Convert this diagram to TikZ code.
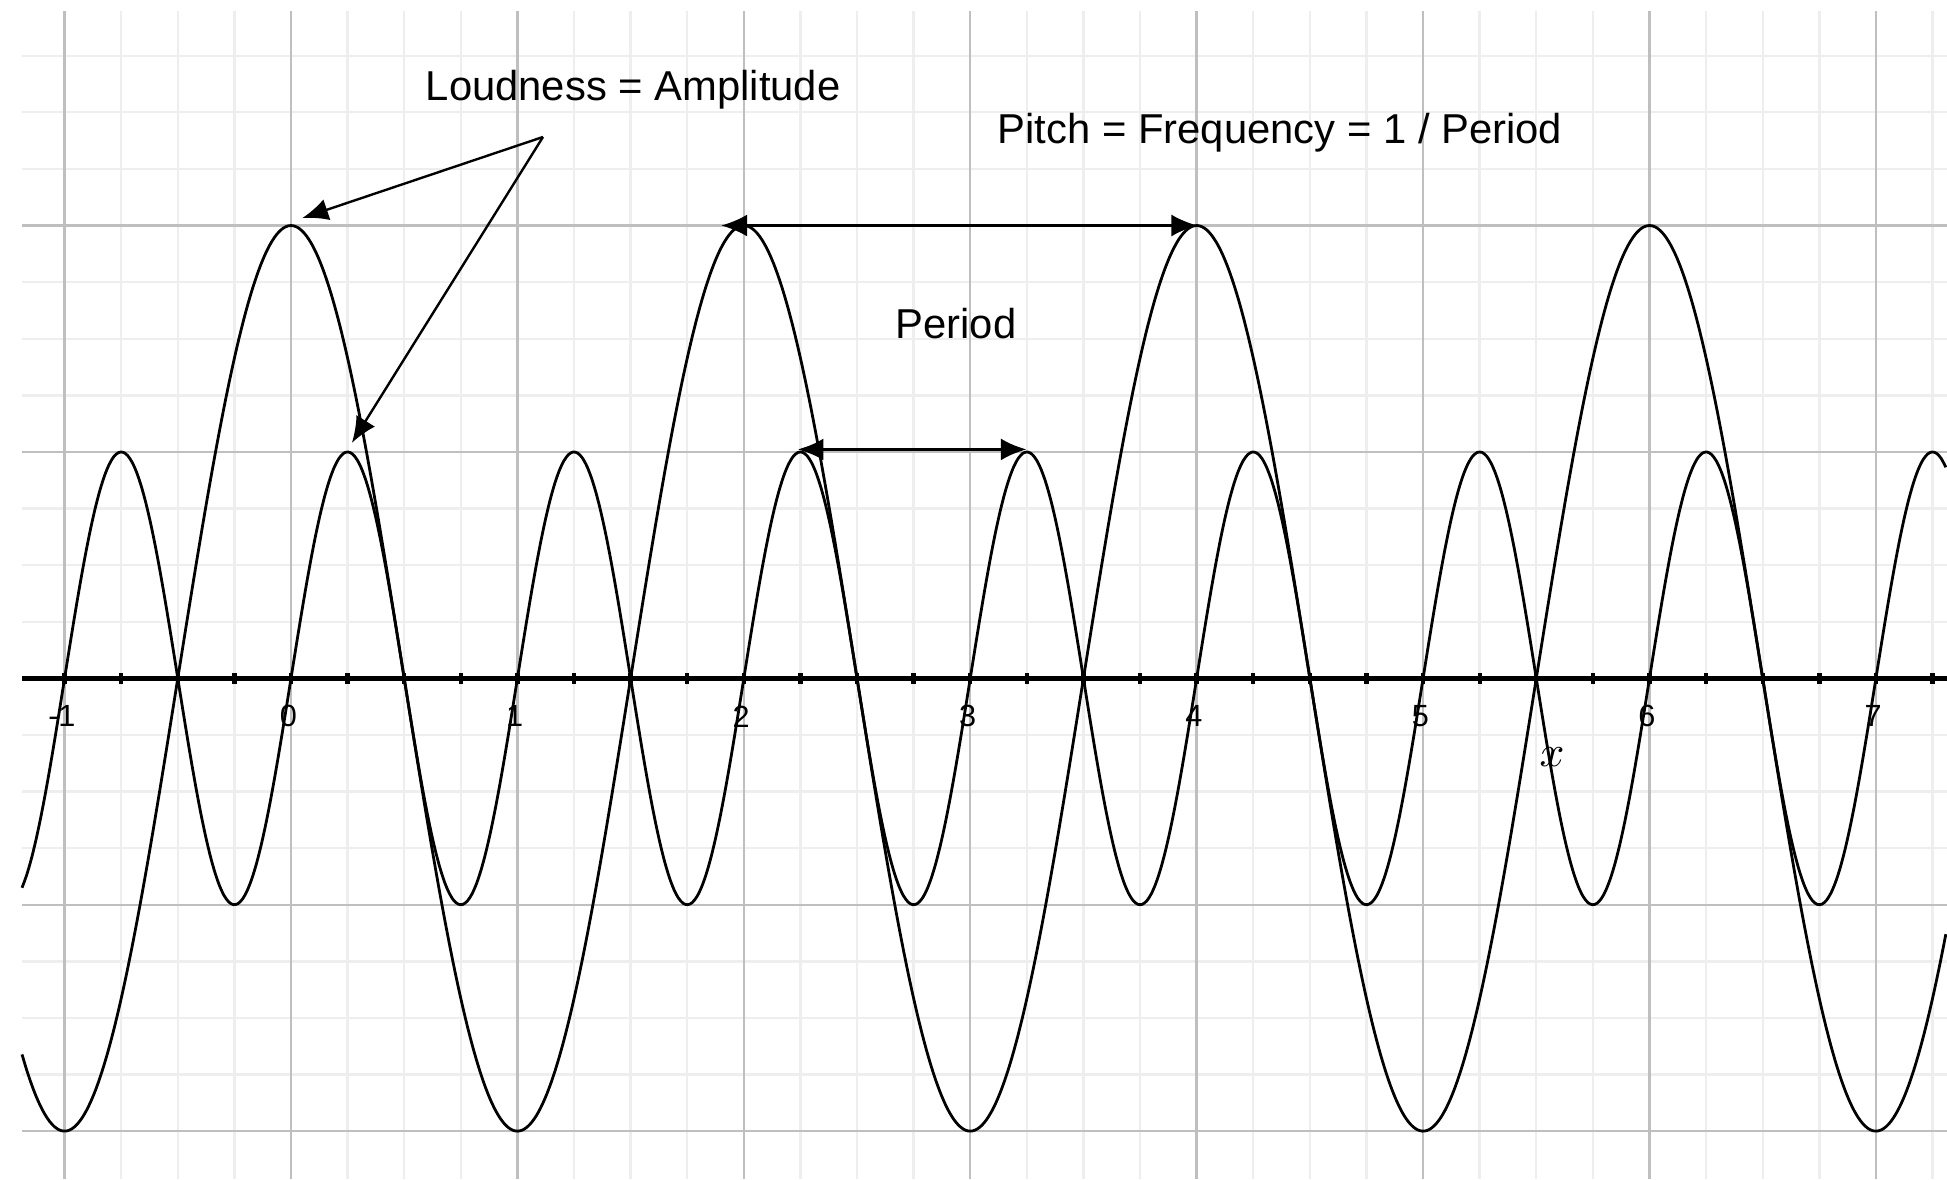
\documentclass[tikz,border=0pt]{standalone}
\usepackage{fontspec}
\setmainfont{Liberation Sans}
\usetikzlibrary{arrows.meta}

\begin{document}
\begin{tikzpicture}[x=2cm,y=2cm,font=\fontsize{10.5}{12}\selectfont,>={Latex[length=6.5pt,width=5.5pt]},
  gridminor/.style={gray!13,line width=.6pt},
  gridmajor/.style={gray!50,line width=.6pt},
  wave/.style={black,line width=.7pt,smooth,samples=420,domain=-1.188:7.314},
  pointer/.style={->,black,line width=.6pt}]
\useasboundingbox (-1.2853,-2.2115) rectangle (7.314,2.996);
% grid, light lines every quarter, darker ones at the integers
\foreach \i in {-1,-0.75,...,7.25} \draw[gridminor] (\i,-2.2115) -- (\i,2.947);
\foreach \j in {-2,-1.75,...,2.75} \draw[gridminor] (-1.188,\j) -- (7.314,\j);
\foreach \i in {-1,...,7} \draw[gridmajor] (\i,-2.2115) -- (\i,2.947);
\foreach \j in {-2,-1,1,2} \draw[gridmajor] (-1.188,\j) -- (7.314,\j);
% x axis with ticks and numbers
\draw[black,line width=1.2pt] (-1.188,0) -- (7.314,0);
\foreach \i in {-1,-0.75,...,7.25} \draw[black,line width=1.1pt] (\i,-.024) -- (\i,.024);
\foreach \i in {-1,...,7}
  \node[font=\fontsize{7.7}{9}\selectfont,inner sep=0pt] (n\i) at (\i-.012,-.168) {\i};
\node[font=\fontsize{11}{12}\selectfont,inner sep=0pt] (xlab) at (5.57,-.349) {$x$};
% the two waves
\draw[wave] plot (\x,{2*cos(180*\x)});
\draw[wave] plot (\x,{sin(360*\x)});
% labels
\node[anchor=base,inner sep=0pt] (loud) at (1.511,2.554) {Loudness = Amplitude};
\node[anchor=base,inner sep=0pt] (pitch) at (4.368,2.364) {Pitch = Frequency = 1 / Period};
\node[anchor=base,inner sep=0pt] (period) at (2.937,1.499) {Period};
% arrows to the peaks
\coordinate (apex) at (1.113,2.391);
\coordinate (tipA) at (.05,2.033);
\coordinate (tipB) at (.269,1.04);
\draw[pointer] (apex) -- (tipA);
\draw[pointer] (apex) -- (tipB);
% the periods
\coordinate (pL) at (1.9,2);
\coordinate (pR) at (4.003,2);
\coordinate (qL) at (2.237,1.011);
\coordinate (qR) at (3.25,1.011);
\draw[pointer,<->] (pL) -- (pR);
\draw[pointer,<->,line width=.9pt] (qL) -- (qR);
\end{tikzpicture}
\end{document}
